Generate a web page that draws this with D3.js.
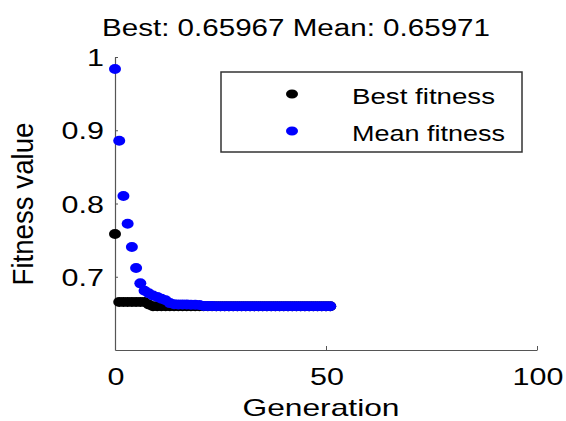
<!DOCTYPE html>
<html><head><meta charset="utf-8">
<script src="https://cdn.jsdelivr.net/npm/d3@7"></script>
<style>body{margin:0;background:#fff}svg{display:block}text{font-family:"Liberation Sans",Arial,Helvetica,sans-serif;fill:#000}</style>
</head><body><svg id="c" width="566" height="421"></svg>
<script>
const generations = [0,1,2,3,4,5,6,7,8,9,10,11,12,13,14,15,16,17,18,19,20,21,22,23,24,25,26,27,28,29,30,31,32,33,34,35,36,37,38,39,40,41,42,43,44,45,46,47,48,49,50,51];
const bestFitness = [0.7584,0.6655,0.6655,0.6655,0.6655,0.6655,0.6655,0.6655,0.6620,
  0.65967,0.65967,0.65967,0.65967,0.65967,0.65967,0.65967,0.65967,0.65967,0.65967,0.65967,0.65967,
  0.65967,0.65967,0.65967,0.65967,0.65967,0.65967,0.65967,0.65967,0.65967,0.65967,0.65967,0.65967,
  0.65967,0.65967,0.65967,0.65967,0.65967,0.65967,0.65967,0.65967,0.65967,0.65967,0.65967,0.65967,
  0.65967,0.65967,0.65967,0.65967,0.65967,0.65967,0.65967];
const meanFitness = [0.9836,0.8857,0.8102,0.7724,0.7406,0.7120,0.6910,0.6810,0.6775,0.6745,
  0.6725,0.6700,0.6680,0.6640,0.6625,0.6622,0.6620,0.6620,0.6618,0.6618,0.6615,0.6600,
  0.6599,0.6599,0.6598,0.6598,0.6598,0.6598,0.65978,0.65978,0.65977,0.65977,0.65976,0.65976,
  0.65975,0.65975,0.65975,0.65974,0.65974,0.65974,0.65973,0.65973,0.65973,0.65972,0.65972,
  0.65972,0.65972,0.65971,0.65971,0.65971,0.65971,0.65971];
const xTicks = [0,50,100];
const yTicks = [0.7,0.8,0.9,1];
const yTickLabels = ["0.7","0.8","0.9","1"];
const titleText = "Best: 0.65967 Mean: 0.65971";
const legendLabels = ["Best fitness","Mean fitness"];
const seriesColors = ["#000000","#0000ff"];

const svg = d3.select("#c");
const x = d3.scaleLinear().domain([0,100]).range([115,537]);
const y = d3.scaleLinear().domain([0.6,1]).range([350,57]);
const SX = 1.27;

// axes
const xAxis = d3.axisBottom(x).tickValues(xTicks).tickSizeInner(-4).tickSizeOuter(0).tickFormat("");
const yAxis = d3.axisLeft(y).tickValues(yTicks).tickSizeInner(-3).tickSizeOuter(0).tickFormat("");
const gx = svg.append("g").attr("transform","translate(0,350)").call(xAxis);
const gy = svg.append("g").attr("transform","translate(115,0)").call(yAxis);
[gx,gy].forEach(g=>{g.select(".domain").attr("stroke","#555").attr("stroke-width",1.2);
  g.selectAll(".tick line").attr("stroke","#555");});

function stretch(sel, k){
  sel.each(function(){const L=this.getComputedTextLength();
    d3.select(this).attr("textLength",L*k).attr("lengthAdjust","spacingAndGlyphs");});
}

// tick labels
svg.append("g").selectAll("text").data(xTicks).join("text")
  .attr("x",d=>x(d)+1).attr("y",385).attr("text-anchor","middle")
  .attr("font-size",24).text(d=>d).call(stretch,SX);
svg.append("g").selectAll("text").data(yTicks).join("text")
  .attr("x",104).attr("y",d=>y(d)+9).attr("text-anchor","end")
  .attr("font-size",24).text((d,i)=>yTickLabels[i]).call(stretch,SX);

// axis titles
svg.append("text").attr("x",321).attr("y",416).attr("text-anchor","middle")
  .attr("font-size",24).attr("textLength",157).attr("lengthAdjust","spacingAndGlyphs").text("Generation");
svg.append("text").attr("transform","translate(33,204) scale(1.2,1) rotate(-90)")
  .attr("text-anchor","middle").attr("font-size",25)
  .attr("textLength",163).attr("lengthAdjust","spacingAndGlyphs").text("Fitness value");
svg.append("text").attr("x",296).attr("y",36).attr("text-anchor","middle")
  .attr("font-size",23).attr("textLength",388).attr("lengthAdjust","spacingAndGlyphs").text(titleText);

// data
const series = [bestFitness, meanFitness];
series.forEach((vals,si)=>{
  svg.append("g").selectAll("ellipse").data(vals).join("ellipse")
    .attr("cx",(d,i)=>x(generations[i])).attr("cy",d=>y(d))
    .attr("rx",6).attr("ry",5).attr("fill",seriesColors[si]);
});

// legend
const lg = svg.append("g");
lg.append("rect").attr("x",221).attr("y",72).attr("width",301).attr("height",80)
  .attr("fill","#fff").attr("stroke","#333").attr("stroke-width",1.5);
const lgY = [94,131];
legendLabels.forEach((lab,i)=>{
  lg.append("ellipse").attr("cx",292).attr("cy",lgY[i]).attr("rx",6).attr("ry",4.5).attr("fill",seriesColors[i]);
  lg.append("text").attr("x",352).attr("y",lgY[i]+10).attr("font-size",22)
    .attr("textLength",i===0?143:153).attr("lengthAdjust","spacingAndGlyphs").text(lab);
});
</script></body></html>
